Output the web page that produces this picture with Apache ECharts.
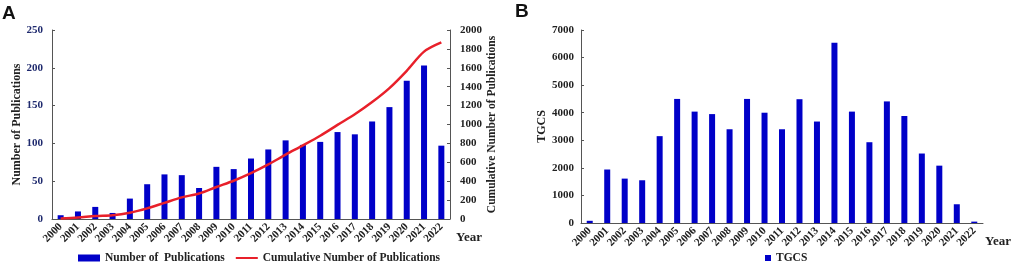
<!DOCTYPE html>
<html>
<head>
<meta charset="utf-8">
<script src="https://cdn.jsdelivr.net/npm/echarts@6/dist/echarts.min.js"></script>
<style>
  html, body { margin: 0; padding: 0; background: #fff; }
  #main { width: 1014px; height: 266px; }
</style>
</head>
<body>
<div id="main"></div>
<script>
// years shared by both panels
const years = ['2000','2001','2002','2003','2004','2005','2006','2007','2008','2009','2010','2011',
  '2012','2013','2014','2015','2016','2017','2018','2019','2020','2021','2022'];

// panel A
const publications = [5, 10, 16, 8, 27, 46, 59, 58, 41, 69, 66, 80, 92, 104, 98, 102, 115, 112, 129, 148, 183, 203, 97];
const cumulative = [5, 15, 31, 39, 66, 112, 171, 229, 270, 339, 405, 485, 577, 681, 779, 881, 996, 1108, 1237, 1385, 1568, 1771, 1868];
const pubTicks = [0, 50, 100, 150, 200, 250];
const cumTicks = [0, 200, 400, 600, 800, 1000, 1200, 1400, 1600, 1800, 2000];

// panel B
const tgcs = [80, 1940, 1610, 1550, 3150, 4500, 4040, 3950, 3400, 4500, 4000, 3400, 4490, 3680, 6540, 4040, 2930, 4410, 3880, 2520, 2080, 680, 50];
const tgcsTicks = [0, 1000, 2000, 3000, 4000, 5000, 6000, 7000];

const serif = '"Liberation Serif", "Times New Roman", serif';
const barBlue = '#0000c8';
const lineRed = '#e8202a';

const chartDom = document.getElementById('main');
const myChart = echarts.init(chartDom);

const axisLine = { show: true, lineStyle: { color: '#555', width: 1 } };
const yTick = { show: true, inside: true, length: 3, lineStyle: { color: '#555' } };

function xAxis(gridIndex, gap) {
  return {
    type: 'category',
    gridIndex: gridIndex,
    data: years,
    axisLine: axisLine,
    axisTick: { show: false },
    axisLabel: {
      rotate: 45, interval: 0, margin: 6,
      fontFamily: serif, fontWeight: 'bold', fontSize: 11, color: '#222'
    },
    name: 'Year',
    nameLocation: 'end',
    nameGap: gap,
    nameTextStyle: {
      fontFamily: serif, fontWeight: 'bold', fontSize: 13, color: '#222',
      verticalAlign: 'top', padding: [12, 0, 0, 0]
    }
  };
}

function yAxis(gridIndex, ticks, opts) {
  return Object.assign({
    type: 'value',
    gridIndex: gridIndex,
    min: ticks[0],
    max: ticks[ticks.length - 1],
    interval: ticks[1] - ticks[0],
    splitLine: { show: false },
    axisLine: axisLine,
    axisTick: yTick,
    nameLocation: 'middle',
    nameRotate: 90,
    nameTextStyle: { fontFamily: serif, fontWeight: 'bold', fontSize: 12, color: '#222' }
  }, opts);
}

function tickLabel(margin, color) {
  return {
    margin: margin, fontFamily: serif, fontWeight: 'bold', fontSize: 11, color: color,
    formatter: v => String(v)
  };
}

const legendText = { fontFamily: serif, fontWeight: 'bold', fontSize: 11.5, color: '#222' };

const option = {
  animation: false,
  graphic: [
    { type: 'text', left: 2, top: 4, style: { text: 'A', font: 'bold 19px "Liberation Sans", Arial, sans-serif', fill: '#111' } },
    { type: 'text', left: 515, top: 2, style: { text: 'B', font: 'bold 19px "Liberation Sans", Arial, sans-serif', fill: '#111' } }
  ],
  grid: [
    { left: 52, top: 30, width: 398, height: 189 },
    { left: 581, top: 30, width: 408, height: 193 }
  ],
  legend: [
    {
      left: 78, top: 252, padding: 0, itemGap: 10,
      textStyle: legendText,
      data: [
        { name: 'Number of  Publications', icon: 'rect', itemStyle: { color: barBlue } },
        { name: 'Cumulative Number of Publications', itemStyle: { color: 'transparent', borderWidth: 0 } }
      ],
      itemWidth: 22, itemHeight: 7
    },
    {
      left: 765, top: 252, padding: 0,
      textStyle: legendText,
      data: [{ name: 'TGCS', icon: 'rect' }],
      itemWidth: 6, itemHeight: 6, itemStyle: { color: barBlue }
    }
  ],
  xAxis: [xAxis(0, 6), xAxis(1, 2)],
  yAxis: [
    yAxis(0, pubTicks, {
      name: 'Number of Publications', nameGap: 29,
      axisLabel: tickLabel(9, '#1f2a6e')
    }),
    yAxis(0, cumTicks, {
      position: 'right',
      name: 'Cumulative Number of Publications', nameGap: 36,
      nameTextStyle: { fontFamily: serif, fontWeight: 'bold', fontSize: 11.5, color: '#222' },
      axisLabel: tickLabel(10, '#222')
    }),
    yAxis(1, tgcsTicks, {
      name: 'TGCS', nameGap: 33,
      axisLabel: tickLabel(7, '#222')
    })
  ],
  series: [
    {
      name: 'Number of  Publications',
      type: 'bar',
      xAxisIndex: 0, yAxisIndex: 0,
      barWidth: 6,
      itemStyle: { color: barBlue },
      data: publications
    },
    {
      name: 'Cumulative Number of Publications',
      type: 'line',
      xAxisIndex: 0, yAxisIndex: 1,
      smooth: 0.3,
      symbol: 'none',
      lineStyle: { color: lineRed, width: 2.5 },
      itemStyle: { color: lineRed },
      data: cumulative
    },
    {
      name: 'TGCS',
      type: 'bar',
      xAxisIndex: 1, yAxisIndex: 2,
      barWidth: 6,
      itemStyle: { color: barBlue },
      data: tgcs
    }
  ]
};

option && myChart.setOption(option);
</script>
</body>
</html>
